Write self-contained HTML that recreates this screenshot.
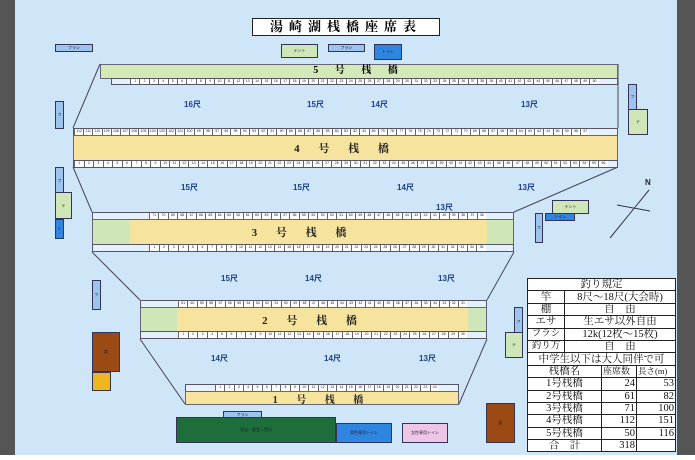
<!DOCTYPE html><html><head><meta charset="utf-8"><style>
*{margin:0;padding:0;box-sizing:border-box}
body{width:695px;height:460px;background:#555;position:relative;overflow:hidden;font-family:"Liberation Sans","Noto Sans CJK JP",sans-serif}
.a{position:absolute}
#bg{left:15px;top:0;width:662px;height:455px;background:#cfe6f8}
#wb{left:0;top:455px;width:695px;height:5px;background:#fff}
.box{position:absolute;border:1px solid #335;font-size:4px;display:flex;align-items:center;justify-content:center;color:#223}
.fl{background:#9cc4ec}.te{background:#cfe7b8}.to{background:#2f86e0}
.row{position:absolute;display:flex;background:#e4f0fb;border:1px solid #556}
.row i{flex:1;font-style:normal;font-size:3.5px;background:#fff;border-left:1px solid #666;text-align:center;line-height:5px;color:#222;overflow:hidden}
.band{position:absolute;background:#f6e49e;border:1px solid #667;display:flex;align-items:center;justify-content:center;font-family:"Liberation Serif","Noto Serif CJK SC",serif;font-weight:bold;font-size:11px;letter-spacing:8px;color:#222}
.g{position:absolute;background:#cfe7b8}
.d{position:absolute;font-size:8px;color:#1a3f8f;font-weight:bold}
table{position:absolute;left:527px;top:278px;width:148px;border-collapse:collapse;table-layout:fixed;background:#fff;font-family:"Liberation Serif","Noto Serif CJK JP",serif;font-size:10.5px;color:#111}
td{border:1px solid #222;height:12.4px;padding:0 1px;line-height:11px;white-space:nowrap;overflow:hidden}
</style></head><body>
<div class="a" id="bg"></div><div class="a" id="wb"></div>
<div class="a" style="left:252px;top:18px;width:188px;height:18px;background:#fff;border:1px solid #222;font-family:'Liberation Serif','Noto Serif CJK JP',serif;font-weight:bold;font-size:13px;text-align:center;line-height:16px;letter-spacing:6px">湯崎湖桟橋座席表</div>
<div class="box fl" style="left:55px;top:44px;width:38px;height:8px">フラシ</div>
<div class="box te" style="left:281px;top:44px;width:37px;height:14px">テント</div>
<div class="box fl" style="left:328px;top:44px;width:37px;height:8px">フラシ</div>
<div class="box to" style="left:374px;top:44px;width:28px;height:16px">トイレ</div>
<div class="box fl" style="left:55px;top:101px;width:9px;height:28px">フ</div>
<div class="box fl" style="left:55px;top:167px;width:9px;height:28px">フ</div>
<div class="box te" style="left:55px;top:192px;width:17px;height:27px">テ</div>
<div class="box to" style="left:55px;top:219px;width:9px;height:20px">ト</div>
<div class="box fl" style="left:628px;top:84px;width:9px;height:26px">フ</div>
<div class="box te" style="left:628px;top:109px;width:20px;height:26px">テ</div>
<div class="box te" style="left:552px;top:200px;width:37px;height:14px">テント</div>
<div class="box to" style="left:545px;top:213px;width:30px;height:8px">トイレ</div>
<div class="box fl" style="left:535px;top:213px;width:8px;height:30px">フ</div>
<div class="box fl" style="left:92px;top:280px;width:9px;height:30px">フ</div>
<div class="box fl" style="left:514px;top:307px;width:9px;height:30px">フ</div>
<div class="box te" style="left:505px;top:332px;width:18px;height:26px">テ</div>
<svg class="a" style="left:0;top:0" width="695" height="460"><g stroke="#445" stroke-width="1" fill="none">
<path d="M100 64 L73 128 M618 64 L618 128 M73 167 L92 212 M618 167 L514 212 M92 252 L140 300 M514 252 L487 300 M140 339 L185 404 M487 339 L459 404"/>
<path d="M649 190 L610 238 M617 205 L650 211" stroke="#334"/></g>
<text x="645" y="185" font-size="8" font-family="Liberation Sans" font-weight="bold" fill="#223">N</text></svg>
<div class="g" style="left:100px;top:64px;width:518px;height:15px;border:1px solid #667;background:#d3eab8"></div>
<div class="a" style="left:100px;top:64px;width:518px;height:14px;text-align:center;font-family:'Liberation Serif','Noto Serif CJK SC',serif;font-weight:bold;font-size:10px;letter-spacing:7px;line-height:14px">5 号 桟 橋</div>
<div class="row" style="left:111px;top:78px;width:507px;height:7px;padding-left:18px;padding-right:18px"><i>1</i><i>2</i><i>3</i><i>4</i><i>5</i><i>6</i><i>7</i><i>8</i><i>9</i><i>10</i><i>11</i><i>12</i><i>13</i><i>14</i><i>15</i><i>16</i><i>17</i><i>18</i><i>19</i><i>20</i><i>21</i><i>22</i><i>23</i><i>24</i><i>25</i><i>26</i><i>27</i><i>28</i><i>29</i><i>30</i><i>31</i><i>32</i><i>33</i><i>34</i><i>35</i><i>36</i><i>37</i><i>38</i><i>39</i><i>40</i><i>41</i><i>42</i><i>43</i><i>44</i><i>45</i><i>46</i><i>47</i><i>48</i><i>49</i><i>50</i></div>
<div class="row" style="left:73px;top:128px;width:545px;height:8px;padding-right:28px"><i>112</i><i>111</i><i>110</i><i>109</i><i>108</i><i>107</i><i>106</i><i>105</i><i>104</i><i>103</i><i>102</i><i>101</i><i>100</i><i>99</i><i>98</i><i>97</i><i>96</i><i>95</i><i>94</i><i>93</i><i>92</i><i>91</i><i>90</i><i>89</i><i>88</i><i>87</i><i>86</i><i>85</i><i>84</i><i>83</i><i>82</i><i>81</i><i>80</i><i>79</i><i>78</i><i>77</i><i>76</i><i>75</i><i>74</i><i>73</i><i>72</i><i>71</i><i>70</i><i>69</i><i>68</i><i>67</i><i>66</i><i>65</i><i>64</i><i>63</i><i>62</i><i>61</i><i>60</i><i>59</i><i>58</i><i>57</i></div>
<div class="band" style="left:73px;top:135px;width:545px;height:26px">4 号 桟 橋</div>
<div class="row" style="left:73px;top:160px;width:545px;height:8px;padding-right:9px"><i>1</i><i>2</i><i>3</i><i>4</i><i>5</i><i>6</i><i>7</i><i>8</i><i>9</i><i>10</i><i>11</i><i>12</i><i>13</i><i>14</i><i>15</i><i>16</i><i>17</i><i>18</i><i>19</i><i>20</i><i>21</i><i>22</i><i>23</i><i>24</i><i>25</i><i>26</i><i>27</i><i>28</i><i>29</i><i>30</i><i>31</i><i>32</i><i>33</i><i>34</i><i>35</i><i>36</i><i>37</i><i>38</i><i>39</i><i>40</i><i>41</i><i>42</i><i>43</i><i>44</i><i>45</i><i>46</i><i>47</i><i>48</i><i>49</i><i>50</i><i>51</i><i>52</i><i>53</i><i>54</i><i>55</i><i>56</i></div>
<div class="row" style="left:92px;top:212px;width:422px;height:8px;padding-left:56px;padding-right:27px"><i>71</i><i>70</i><i>69</i><i>68</i><i>67</i><i>66</i><i>65</i><i>64</i><i>63</i><i>62</i><i>61</i><i>60</i><i>59</i><i>58</i><i>57</i><i>56</i><i>55</i><i>54</i><i>53</i><i>52</i><i>51</i><i>50</i><i>49</i><i>48</i><i>47</i><i>46</i><i>45</i><i>44</i><i>43</i><i>42</i><i>41</i><i>40</i><i>39</i><i>38</i><i>37</i><i>36</i></div>
<div class="band" style="left:92px;top:219px;width:422px;height:26px">3 号 桟 橋</div>
<div class="g" style="left:93px;top:220px;width:37px;height:24px"></div><div class="g" style="left:487px;top:220px;width:26px;height:24px"></div>
<div class="row" style="left:92px;top:244px;width:422px;height:8px;padding-left:56px;padding-right:27px"><i>1</i><i>2</i><i>3</i><i>4</i><i>5</i><i>6</i><i>7</i><i>8</i><i>9</i><i>10</i><i>11</i><i>12</i><i>13</i><i>14</i><i>15</i><i>16</i><i>17</i><i>18</i><i>19</i><i>20</i><i>21</i><i>22</i><i>23</i><i>24</i><i>25</i><i>26</i><i>27</i><i>28</i><i>29</i><i>30</i><i>31</i><i>32</i><i>33</i><i>34</i><i>35</i></div>
<div class="row" style="left:140px;top:300px;width:347px;height:8px;padding-left:37px;padding-right:19px"><i>61</i><i>60</i><i>59</i><i>58</i><i>57</i><i>56</i><i>55</i><i>54</i><i>53</i><i>52</i><i>51</i><i>50</i><i>49</i><i>48</i><i>47</i><i>46</i><i>45</i><i>44</i><i>43</i><i>42</i><i>41</i><i>40</i><i>39</i><i>38</i><i>37</i><i>36</i><i>35</i><i>34</i><i>33</i><i>32</i><i>31</i></div>
<div class="band" style="left:140px;top:307px;width:347px;height:25px">2 号 桟 橋</div>
<div class="g" style="left:141px;top:308px;width:36px;height:23px"></div><div class="g" style="left:468px;top:308px;width:18px;height:23px"></div>
<div class="row" style="left:140px;top:331px;width:347px;height:8px;padding-left:37px;padding-right:19px"><i>1</i><i>2</i><i>3</i><i>4</i><i>5</i><i>6</i><i>7</i><i>8</i><i>9</i><i>10</i><i>11</i><i>12</i><i>13</i><i>14</i><i>15</i><i>16</i><i>17</i><i>18</i><i>19</i><i>20</i><i>21</i><i>22</i><i>23</i><i>24</i><i>25</i><i>26</i><i>27</i><i>28</i><i>29</i><i>30</i></div>
<div class="row" style="left:185px;top:384px;width:274px;height:8px;padding-left:29px;padding-right:19px"><i>1</i><i>2</i><i>3</i><i>4</i><i>5</i><i>6</i><i>7</i><i>8</i><i>9</i><i>10</i><i>11</i><i>12</i><i>13</i><i>14</i><i>15</i><i>16</i><i>17</i><i>18</i><i>19</i><i>20</i><i>21</i><i>22</i><i>23</i><i>24</i></div>
<div class="band" style="left:185px;top:391px;width:274px;height:14px;font-size:10px">1 号 桟 橋</div>
<div class="d" style="left:184px;top:99px">16尺</div><div class="d" style="left:307px;top:99px">15尺</div><div class="d" style="left:371px;top:99px">14尺</div><div class="d" style="left:521px;top:99px">13尺</div>
<div class="d" style="left:181px;top:182px">15尺</div><div class="d" style="left:293px;top:182px">15尺</div><div class="d" style="left:397px;top:182px">14尺</div><div class="d" style="left:518px;top:182px">13尺</div><div class="d" style="left:436px;top:202px">13尺</div>
<div class="d" style="left:221px;top:273px">15尺</div><div class="d" style="left:305px;top:273px">14尺</div><div class="d" style="left:438px;top:273px">13尺</div>
<div class="d" style="left:211px;top:353px">14尺</div><div class="d" style="left:324px;top:353px">14尺</div><div class="d" style="left:419px;top:353px">13尺</div>
<div class="box" style="left:92px;top:332px;width:28px;height:40px;background:#9a4a12">倉</div>
<div class="box" style="left:92px;top:372px;width:19px;height:19px;background:#f0b620"></div>
<div class="box" style="left:486px;top:403px;width:29px;height:40px;background:#9a4a12">倉</div>
<div class="box fl" style="left:223px;top:411px;width:39px;height:7px">フラシ</div>
<div class="box" style="left:176px;top:417px;width:160px;height:26px;background:#1e6e3c">売店・食堂・受付</div>
<div class="box to" style="left:336px;top:423px;width:56px;height:20px">男性専用トイレ</div>
<div class="box" style="left:402px;top:423px;width:46px;height:20px;background:#edc6e6">女性専用トイレ</div>
<table>
<colgroup><col style="width:37px"><col style="width:37px"><col style="width:35px"><col style="width:39px"></colgroup>
<tr><td colspan="4" style="text-align:center">釣り規定</td></tr>
<tr><td style="text-align:center">竿</td><td colspan="3" style="text-align:center">8尺～18尺(大会時)</td></tr>
<tr><td style="text-align:center">棚</td><td colspan="3" style="text-align:center">自　由</td></tr>
<tr><td style="text-align:center">エサ</td><td colspan="3" style="text-align:center">生エサ以外自由</td></tr>
<tr><td style="text-align:center;font-size:9.5px">フラシ</td><td colspan="3" style="text-align:center">12k(12枚～15枚)</td></tr>
<tr><td style="text-align:center;font-size:9.5px">釣り方</td><td colspan="3" style="text-align:center">自　由</td></tr>
<tr><td colspan="4" style="text-align:center">中学生以下は大人同伴で可</td></tr>
<tr><td colspan="2" style="text-align:center">桟橋名</td><td style="font-size:9px">座席数</td><td style="font-size:8.5px">長さ(m)</td></tr>
<tr><td colspan="2" style="text-align:center">1号桟橋</td><td style="text-align:right">24</td><td style="text-align:right">53</td></tr>
<tr><td colspan="2" style="text-align:center">2号桟橋</td><td style="text-align:right">61</td><td style="text-align:right">82</td></tr>
<tr><td colspan="2" style="text-align:center">3号桟橋</td><td style="text-align:right">71</td><td style="text-align:right">100</td></tr>
<tr><td colspan="2" style="text-align:center">4号桟橋</td><td style="text-align:right">112</td><td style="text-align:right">151</td></tr>
<tr><td colspan="2" style="text-align:center">5号桟橋</td><td style="text-align:right">50</td><td style="text-align:right">116</td></tr>
<tr><td colspan="2" style="text-align:center">合　計</td><td style="text-align:right">318</td><td></td></tr>
</table>
</body></html>
